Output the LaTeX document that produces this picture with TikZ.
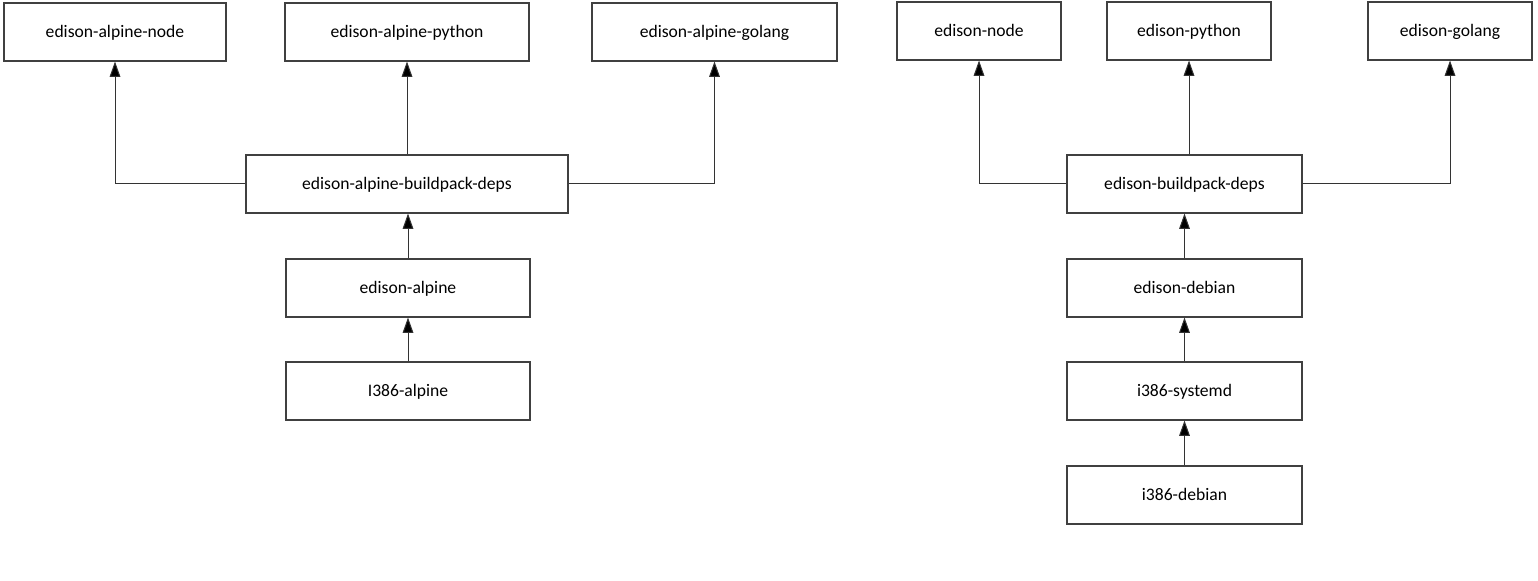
\documentclass[tikz,border=0pt]{standalone}
\usepackage{fontspec}
\setmainfont{Carlito}
\usetikzlibrary{arrows.meta,positioning}

\tikzset{
  box/.style={draw=black!75,line width=0.8pt,fill=white,minimum height=43.5pt,inner sep=0pt,text height=10pt,text depth=2pt,font=\fontsize{13.2}{16}\selectfont},
  dep/.style={draw=black!80,line width=0.75pt,-{Triangle[width=8pt,length=11.5pt,fill=black]}}
}

\begin{document}
\begin{tikzpicture}[x=0.75pt,y=-0.75pt]
    \useasboundingbox[fill=white] (0,0) rectangle (1538,581);

    % alpine tree
    \node[box,minimum width=166.5pt] (anode) at (115,32) {edison-alpine-node};
    \node[box,minimum width=183pt] (apython) at (407,32) {edison-alpine-python};
    \node[box,minimum width=183.75pt] (agolang) at (714.5,32) {edison-alpine-golang};
    \node[box,minimum width=241.5pt] (abpd) at (407,184) {edison-alpine-buildpack-deps};
    \node[box,minimum width=183pt] (alpine) at (408,288) {edison-alpine};
    \node[box,minimum width=183pt] (ialpine) at (408,391) {I386-alpine};

    \draw[dep] (abpd.west) -| (anode.south);
    \draw[dep] (abpd.north) -- (apython.south);
    \draw[dep] (abpd.east) -| (agolang.south);
    \draw[dep] (alpine.north) -- (alpine.north |- abpd.south);
    \draw[dep] (ialpine.north) -- (alpine.south);

    % debian tree
    \node[box,minimum width=123pt] (dnode) at (979,31) {edison-node};
    \node[box,minimum width=123pt] (dpython) at (1189,31) {edison-python};
    \node[box,minimum width=123pt] (dgolang) at (1450,31) {edison-golang};
    \node[box,minimum width=176.25pt] (dbpd) at (1184.5,184) {edison-buildpack-deps};
    \node[box,minimum width=176.25pt] (debian) at (1184.5,288) {edison-debian};
    \node[box,minimum width=176.25pt] (systemd) at (1184.5,391) {i386-systemd};
    \node[box,minimum width=176.25pt] (idebian) at (1184.5,495) {i386-debian};

    \draw[dep] (dbpd.west) -| (dnode.south);
    \draw[dep] (dpython.south |- dbpd.north) -- (dpython.south);
    \draw[dep] (dbpd.east) -| (dgolang.south);
    \draw[dep] (debian.north) -- (dbpd.south);
    \draw[dep] (systemd.north) -- (debian.south);
    \draw[dep] (idebian.north) -- (systemd.south);
\end{tikzpicture}
\end{document}
